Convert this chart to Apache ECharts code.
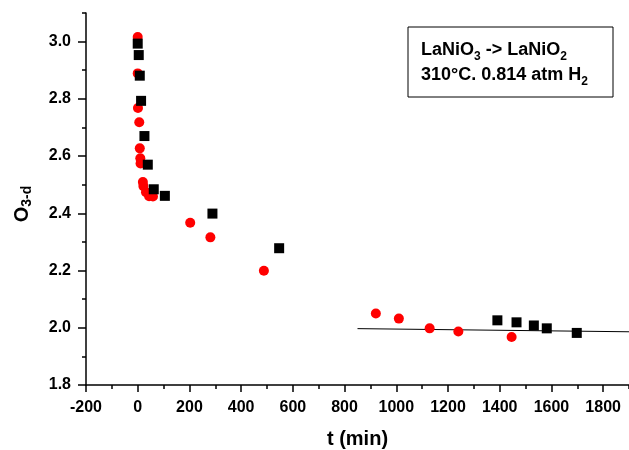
<!DOCTYPE html>
<html>
<head>
<meta charset="utf-8">
<script src="https://cdn.jsdelivr.net/npm/echarts@6/dist/echarts.min.js"></script>
<style>
html,body{margin:0;padding:0;background:#fff;}
#chart{width:629px;height:450px;}
</style>
</head>
<body>
<div id="chart"></div>
<script>
// ---- data ----
const redT = [0, 0, 1, 6, 8, 10, 11, 20, 22, 32, 44, 59, 203, 281, 488, 921, 1010, 1129, 1240, 1446];
const redO = [3.016, 2.889, 2.768, 2.718, 2.627, 2.592, 2.574, 2.509, 2.495, 2.474, 2.46, 2.459, 2.367, 2.316, 2.199, 2.05, 2.032, 1.998, 1.987, 1.968];
const blackT = [0, 4, 8, 13, 26, 39, 62, 105, 289, 547, 1391, 1465, 1532, 1582, 1698];
const blackO = [2.993, 2.953, 2.881, 2.793, 2.67, 2.57, 2.484, 2.461, 2.399, 2.278, 2.026, 2.019, 2.008, 1.998, 1.982];
const fitT = [850, 1900];
const fitO = [1.997, 1.986];

const xMajorTicks = [-200, 0, 200, 400, 600, 800, 1000, 1200, 1400, 1600, 1800];
const xMinorTicks = [-100, 100, 300, 500, 700, 900, 1100, 1300, 1500, 1700, 1900];
const yMajorTicks = [1.8, 2.0, 2.2, 2.4, 2.6, 2.8, 3.0];
const yMinorTicks = [1.9, 2.1, 2.3, 2.5, 2.7, 2.9, 3.1];

const xLabel = 't (min)';
const yLabelMain = 'O';
const yLabelSub = '3-d';
const noteLine1 = ['LaNiO', '3', ' -> LaNiO', '2'];
const noteLine2 = ['310°C. 0.814 atm H', '2'];

// ---- chart ----
const FF = '"Liberation Sans", Arial, sans-serif';
const zip = (a, b) => a.map((v, i) => [v, b[i]]);
const chart = echarts.init(document.getElementById('chart'), null, {renderer: 'canvas'});

const axisLineStyle = {color: '#000', width: 1.5};

const option = {
  backgroundColor: '#fff',
  animation: false,
  grid: {left: 86, right: 0, top: 13, bottom: 65, containLabel: false, outerBoundsMode: 'none'},
  xAxis: [
    {
      type: 'value', min: -200, max: 1900, interval: 200, position: 'bottom',
      axisLine: {show: true, onZero: false, lineStyle: axisLineStyle},
      axisTick: {show: true, customValues: xMajorTicks, length: 7, lineStyle: axisLineStyle},
      axisLabel: {customValues: xMajorTicks, margin: 15, fontSize: 16, fontWeight: 'bold', color: '#000', fontFamily: FF,
        formatter: v => String(Math.round(v))},
      splitLine: {show: false},
      name: xLabel, nameLocation: 'middle', nameGap: 44,
      nameTextStyle: {fontSize: 20, fontWeight: 'bold', color: '#000', fontFamily: FF}
    },
    {
      type: 'value', min: -200, max: 1900, interval: 100, position: 'bottom',
      axisLine: {show: false, onZero: false},
      axisTick: {show: true, customValues: xMinorTicks, length: 4, lineStyle: axisLineStyle},
      axisLabel: {show: false},
      splitLine: {show: false}
    }
  ],
  yAxis: [
    {
      type: 'value', min: 1.8, max: 3.1, interval: 0.2, position: 'left',
      axisLine: {show: true, onZero: false, lineStyle: axisLineStyle},
      axisTick: {show: true, customValues: yMajorTicks, length: 8, lineStyle: axisLineStyle},
      axisLabel: {customValues: yMajorTicks, margin: 15, fontSize: 16, fontWeight: 'bold', color: '#000', fontFamily: FF,
        formatter: v => Number(v).toFixed(1)},
      splitLine: {show: false},
      name: '{o|' + yLabelMain + '}{s|' + yLabelSub + '}',
      nameLocation: 'middle', nameGap: 52, nameRotate: 90,
      nameTextStyle: {
        color: '#000', fontFamily: FF, fontWeight: 'bold', padding: [0, 10, 0, 0],
        rich: {
          o: {fontSize: 20, fontWeight: 'bold', fontFamily: FF, color: '#000', lineHeight: 24},
          s: {fontSize: 14, fontWeight: 'bold', fontFamily: FF, color: '#000', lineHeight: 14, verticalAlign: 'bottom'}
        }
      }
    },
    {
      type: 'value', min: 1.8, max: 3.1, interval: 0.1, position: 'left',
      axisLine: {show: false, onZero: false},
      axisTick: {show: true, customValues: yMinorTicks, length: 4, lineStyle: axisLineStyle},
      axisLabel: {show: false},
      splitLine: {show: false}
    }
  ],
  series: [
    {
      type: 'line', data: zip(fitT, fitO), xAxisIndex: 0, yAxisIndex: 0,
      showSymbol: false, symbol: 'none', lineStyle: {color: '#000', width: 1}, z: 1, silent: true
    },
    {
      type: 'scatter', data: zip(redT, redO), xAxisIndex: 0, yAxisIndex: 0,
      symbol: 'circle', symbolSize: 10, itemStyle: {color: '#ff0000', opacity: 1}, z: 2
    },
    {
      type: 'scatter', data: zip(blackT, blackO), xAxisIndex: 0, yAxisIndex: 0,
      symbol: 'rect', symbolSize: 10, itemStyle: {color: '#000000', opacity: 1}, z: 3
    }
  ],
  graphic: [
    {
      type: 'rect', z: 10,
      shape: {x: 408, y: 27, width: 205, height: 70},
      style: {fill: '#fff', stroke: '#000', lineWidth: 1}
    },
    {
      type: 'text', z: 11, x: 421, y: 38,
      style: {
        text: '{b|' + noteLine1[0] + '}{s|' + noteLine1[1] + '}{b|' + noteLine1[2] + '}{s|' + noteLine1[3] + '}\n' +
              '{b|' + noteLine2[0] + '}{s|' + noteLine2[1] + '}',
        verticalAlign: 'top', align: 'left',
        rich: {
          b: {fontSize: 18, fontWeight: 'bold', fontFamily: FF, fill: '#000', color: '#000', lineHeight: 25},
          s: {fontSize: 12, fontWeight: 'bold', fontFamily: FF, fill: '#000', color: '#000', lineHeight: 14, verticalAlign: 'bottom'}
        }
      }
    }
  ]
};
chart.setOption(option);
</script>
</body>
</html>
